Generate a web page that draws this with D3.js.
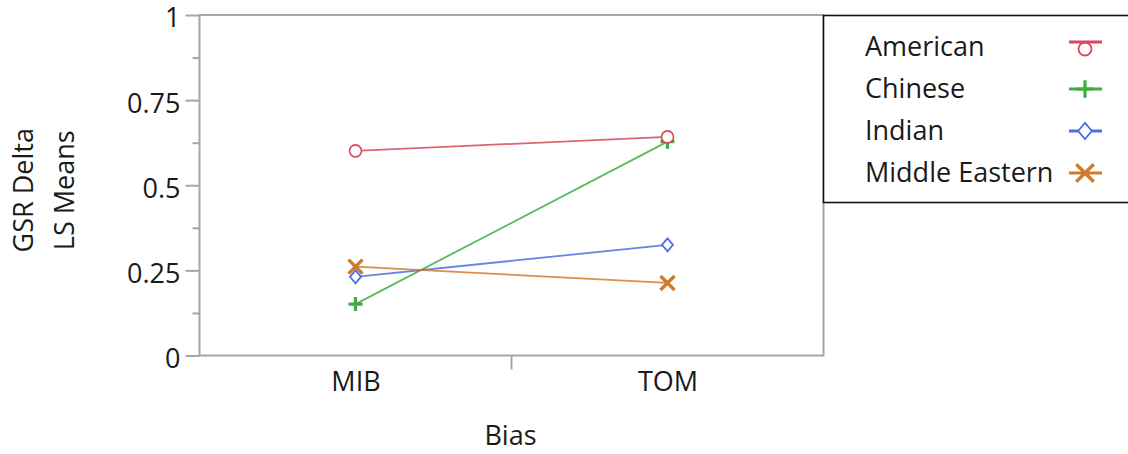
<!DOCTYPE html>
<html>
<head>
<meta charset="utf-8">
<script src="https://cdn.jsdelivr.net/npm/d3@7"></script>
<style>
html,body{margin:0;padding:0;background:#fff;}
svg{display:block;}
text{font-family:"Open Sans","Noto Sans",sans-serif;fill:#1a1a1a;}
</style>
</head>
<body>
<svg id="chart" width="1128" height="454"></svg>
<script>
const categories = ["MIB", "TOM"];
const seriesNames = ["American", "Chinese", "Indian", "Middle Eastern"];
const american = [0.601, 0.642];
const chinese = [0.151, 0.628];
const indian = [0.231, 0.325];
const middleEastern = [0.261, 0.213];
const yTicks = [0, 0.25, 0.5, 0.75, 1];
const yTickLabels = ["0", "0.25", "0.5", "0.75", "1"];
const yMinorTicks = [0.125, 0.375, 0.625, 0.875];
const yTitle = ["GSR Delta", "LS Means"];
const xTitle = "Bias";

const colors = ["#d9475a", "#3bae3f", "#4a6fe3", "#d27a2b"];
const shapes = ["circle", "plus", "diamond", "x"];
const seriesValues = [american, chinese, indian, middleEastern];

const svg = d3.select("#chart");
const L = 199.5, R = 823.5, T = 15, B = 355.5;
const FS = 27;

const x = d3.scalePoint().domain(categories).range([L, R]).padding(0.5);
const y = d3.scaleLinear().domain([0, 1]).range([B, T]);

// frame
svg.append("rect").attr("x", L).attr("y", T).attr("width", R - L).attr("height", B - T)
  .attr("fill", "none").attr("stroke", "#a6a6a6").attr("stroke-width", 2);

// y axis
const yAxis = d3.axisLeft(y).tickValues(yTicks).tickSize(14).tickPadding(5)
  .tickFormat((d, i) => yTickLabels[i]);
const gy = svg.append("g").attr("transform", `translate(${L},0)`).call(yAxis);
gy.select(".domain").remove();
gy.selectAll(".tick line").attr("stroke", "#a6a6a6").attr("stroke-width", 2);
gy.selectAll(".tick text").attr("font-size", FS).attr("dy", "0.44em")
  .style("font-family", '"Open Sans","Noto Sans",sans-serif').attr("fill", "#1a1a1a");
const yMinor = d3.axisLeft(y).tickValues(yMinorTicks).tickSize(7).tickFormat("");
const gym = svg.append("g").attr("transform", `translate(${L},0)`).call(yMinor);
gym.select(".domain").remove();
gym.selectAll(".tick line").attr("stroke", "#a6a6a6").attr("stroke-width", 2);

// x axis
const xAxis = d3.axisBottom(x).tickSize(0).tickPadding(16);
const gx = svg.append("g").attr("transform", `translate(0,${B})`).call(xAxis);
gx.select(".domain").remove();
gx.selectAll(".tick text").attr("font-size", FS).attr("dy", "0.71em")
  .style("font-family", '"Open Sans","Noto Sans",sans-serif').attr("fill", "#1a1a1a");
// middle divider tick between categories
const mid = (x(categories[0]) + x(categories[1])) / 2;
svg.append("line").attr("x1", mid).attr("x2", mid).attr("y1", B).attr("y2", B + 14)
  .attr("stroke", "#a6a6a6").attr("stroke-width", 2);

// titles
svg.append("text").attr("x", (L + R) / 2 - 1).attr("y", 445).attr("text-anchor", "middle")
  .attr("font-size", FS).text(xTitle);
const yt = svg.append("g").attr("transform", `translate(0,${(T + B) / 2 + 5}) rotate(-90)`);
yt.append("text").attr("x", 0).attr("y", 33).attr("text-anchor", "middle").attr("font-size", FS).text(yTitle[0]);
yt.append("text").attr("x", 0).attr("y", 74).attr("text-anchor", "middle").attr("font-size", FS).text(yTitle[1]);

function drawMarker(g, shape, color, cx, cy, k) {
  k = k || 1;
  if (shape === "circle") {
    g.append("circle").attr("cx", cx).attr("cy", cy).attr("r", 6 * k)
      .attr("fill", "#fff").attr("stroke", color).attr("stroke-width", 1.6);
  } else if (shape === "plus") {
    g.append("path").attr("d", `M${cx - 7 * k},${cy}H${cx + 7 * k}M${cx},${cy - 7 * k}V${cy + 7 * k}`)
      .attr("stroke", color).attr("stroke-width", 3.2).attr("fill", "none");
  } else if (shape === "diamond") {
    g.append("path").attr("d", `M${cx},${cy - 6.5 * k}L${cx + 5.5 * k},${cy}L${cx},${cy + 6.5 * k}L${cx - 5.5 * k},${cy}Z`)
      .attr("stroke", color).attr("stroke-width", 1.8).attr("fill", "#fff");
  } else if (shape === "x") {
    g.append("path").attr("d", `M${cx - 7 * k},${cy - 7 * k}L${cx + 7 * k},${cy + 7 * k}M${cx - 7 * k},${cy + 7 * k}L${cx + 7 * k},${cy - 7 * k}`)
      .attr("stroke", color).attr("stroke-width", 3.4).attr("fill", "none");
  }
}

// lines
const line = d3.line().x((d, i) => x(categories[i])).y(d => y(d));
const gl = svg.append("g");
seriesValues.forEach((vals, s) => {
  gl.append("path").attr("d", line(vals)).attr("fill", "none")
    .attr("stroke", colors[s]).attr("stroke-width", 1.8).attr("stroke-opacity", 0.85);
});
const gm = svg.append("g");
[3, 2, 1, 0].forEach(s => {
  seriesValues[s].forEach((v, i) => drawMarker(gm, shapes[s], colors[s], x(categories[i]), y(v)));
});

// legend
const lg = svg.append("g");
lg.append("rect").attr("x", 823.5).attr("y", 15.5).attr("width", 320).attr("height", 187)
  .attr("fill", "#fff").attr("stroke", "#111").attr("stroke-width", 1.6);
seriesNames.forEach((name, i) => {
  const cy = 47 + i * 42;
  lg.append("text").attr("x", 865).attr("y", cy).attr("dy", "0.35em").attr("font-size", FS).text(name);
  const isC = shapes[i] === "circle";
  const ly = isC ? cy - 5 : cy;
  lg.append("line").attr("x1", 1069).attr("x2", 1102).attr("y1", ly).attr("y2", ly)
    .attr("stroke", colors[i]).attr("stroke-width", 3);
  if (isC) {
    lg.append("circle").attr("cx", 1085).attr("cy", cy + 2).attr("r", 6.5)
      .attr("fill", "none").attr("stroke", colors[i]).attr("stroke-width", 1.8);
  } else {
    drawMarker(lg, shapes[i], colors[i], 1085, cy, 1.25);
  }
});
</script>
</body>
</html>
